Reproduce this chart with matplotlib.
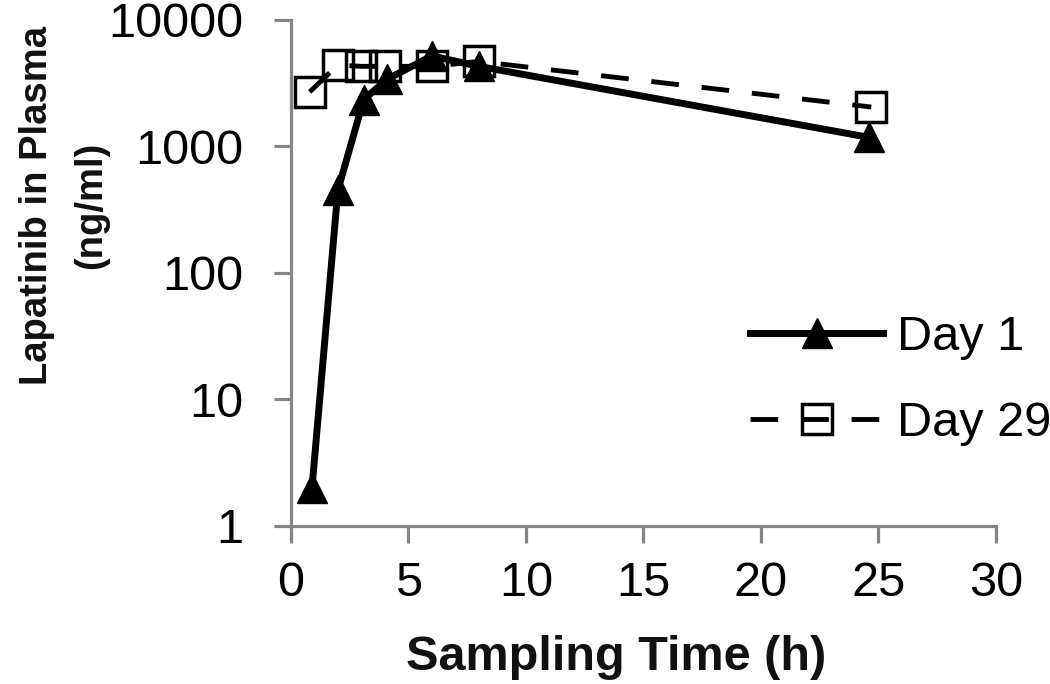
import matplotlib
matplotlib.use("Agg")
import matplotlib.pyplot as plt

plt.rcParams['font.family'] = ['Liberation Sans', 'DejaVu Sans']

# sampling times (h) and lapatinib concentrations (ng/ml)
day1_time = [0.9, 2.0, 3.1, 4.1, 6.0, 8.0, 24.6]
day1_conc = [2.0, 450, 2350, 3400, 5200, 4300, 1180]
day29_time = [0.8, 2.0, 3.0, 4.0, 6.0, 8.0, 24.7]
day29_conc = [2700, 4400, 4300, 4300, 4300, 4700, 2050]

x_ticks = [0, 5, 10, 15, 20, 25, 30]
y_ticks = [1, 10, 100, 1000, 10000]


def main():
    fig = plt.figure(figsize=(10.5, 6.84), dpi=100)
    ax = fig.add_axes([0.277, 0.231, 0.6714, 0.7398])

    ax.plot(day1_time, day1_conc, color='black', lw=5, marker='^',
            markersize=21, label='Day 1', zorder=3)
    ax.plot(day29_time, day29_conc, color='black', lw=3.5, ls=(0, (5.7, 4.7)),
            marker='s', markersize=22, markerfacecolor='none',
            markeredgewidth=2.5, label='Day 29', zorder=2)

    ax.set_yscale('log')
    ax.set_xlim(0, 30)
    ax.set_ylim(1, 10000)
    ax.set_xticks(x_ticks)
    ax.set_xticklabels([str(t) for t in x_ticks])
    ax.set_yticks(y_ticks)
    ax.set_yticklabels([str(t) for t in y_ticks])
    ax.minorticks_off()

    for side in ['top', 'right']:
        ax.spines[side].set_visible(False)
    for side in ['left', 'bottom']:
        ax.spines[side].set_color('#858585')
        ax.spines[side].set_linewidth(2.3)
    ax.tick_params(axis='both', colors='#858585', labelcolor='black',
                   width=2.3, length=12.5, labelsize=35)
    ax.tick_params(axis='y', pad=22)
    ax.tick_params(axis='x', pad=13)

    ax.set_xlabel('Sampling Time (h)', fontsize=35, fontweight='bold',
                  color='#111111')
    ax.xaxis.set_label_coords(0.462, -0.215)
    ax.set_ylabel('Lapatinib in Plasma\n(ng/ml)', fontsize=27.5,
                  fontweight='bold', color='#111111', linespacing=1.65)
    ax.yaxis.set_label_coords(-0.258, 0.634)

    ax.legend(loc='upper left', bbox_to_anchor=(750 / 1050, 1 - 315 / 684),
              bbox_transform=fig.transFigure, frameon=False,
              fontsize=35, handlelength=2.74, handletextpad=0.29,
              labelspacing=0.85, borderpad=0, borderaxespad=0)

    fig.savefig('out.png', dpi=100)


if __name__ == '__main__':
    main()
